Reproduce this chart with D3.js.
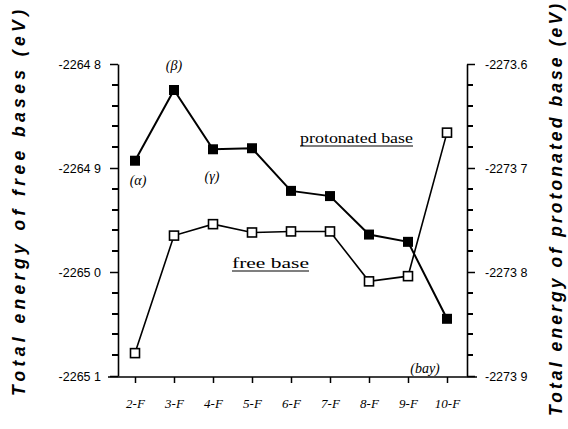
<!DOCTYPE html>
<html>
<head>
<meta charset="utf-8">
<script src="https://cdn.jsdelivr.net/npm/d3@7"></script>
<style>
  body { margin: 0; background: #fff; }
  svg { display: block; }
  .tick text { font-family: "Liberation Sans", Arial, sans-serif; font-size: 12.5px; fill: #000; }
  .xax .tick text { font-family: "Liberation Serif", "Times New Roman", serif; font-style: italic; font-size: 13px; }
</style>
</head>
<body>
<svg id="chart"></svg>
<script>
// data
var categories = ["2-F", "3-F", "4-F", "5-F", "6-F", "7-F", "8-F", "9-F", "10-F"];
var freeBase = [-2265.078, -2264.965, -2264.954, -2264.962, -2264.961, -2264.961, -2265.009, -2265.004, -2264.866];
var protonated = [-2273.693, -2273.625, -2273.682, -2273.681, -2273.722, -2273.727, -2273.764, -2273.771, -2273.845];
var leftTicks = [-2264.8, -2264.9, -2265.0, -2265.1];
var leftLabels = ["-2264 8", "-2264 9", "-2265 0", "-2265 1"];
var leftMinor = [-2264.82, -2264.84, -2264.86, -2264.88, -2264.92, -2264.94, -2264.96, -2264.98,
                 -2265.02, -2265.04, -2265.06, -2265.08];
var rightTicks = [-2273.6, -2273.7, -2273.8, -2273.9];
var rightLabels = ["-2273.6", "-2273 7", "-2273 8", "-2273 9"];
var rightMinor = [-2273.62, -2273.64, -2273.66, -2273.68, -2273.72, -2273.74, -2273.76, -2273.78,
                  -2273.82, -2273.84, -2273.86, -2273.88];
var notes = [
    {text: "(\u03b1)", i: 0, dx: 3, dy: 24},
    {text: "(\u03b2)", i: 1, dx: 0, dy: -20},
    {text: "(\u03b3)", i: 2, dx: -1, dy: 32},
    {text: "(bay)", i: 8, dx: -22, dy: 54}
];

function draw() {
    var width = 568,
        height = 429,
        yTop = 64,
        yBottom = 376,
        xLeft = 118,
        xRight = 467;

    var svg = d3.select("#chart")
        .attr("width", width)
        .attr("height", height);

    var x = d3.scalePoint().domain(categories).range([135, 447]);
    var yL = d3.scaleLinear().domain([-2265.1, -2264.8]).range([yBottom, yTop]);
    var yR = d3.scaleLinear().domain([-2273.9, -2273.6]).range([yBottom, yTop]);

    // minor ticks, drawn as plain rects
    svg.append("g").selectAll("rect").data(leftMinor).enter().append("rect")
        .attr("x", xLeft - 6).attr("width", 6)
        .attr("y", function(d) { return Math.round(yL(d)) - 1; }).attr("height", 2)
        .attr("fill", "#000");
    svg.append("g").selectAll("rect").data(rightMinor).enter().append("rect")
        .attr("x", xRight).attr("width", 6)
        .attr("y", function(d) { return Math.round(yR(d)) - 1; }).attr("height", 2)
        .attr("fill", "#000");

    // left axis
    var gl = svg.append("g").attr("transform", "translate(" + xLeft + ",0)");
    gl.call(d3.axisLeft(yL).tickValues(leftTicks).tickSize(8).tickSizeOuter(0)
        .tickFormat(function(d, i) { return leftLabels[i]; }));
    gl.selectAll(".tick text").attr("x", -17);

    // right axis
    var gr = svg.append("g").attr("transform", "translate(" + xRight + ",0)");
    gr.call(d3.axisRight(yR).tickValues(rightTicks).tickSize(8).tickSizeOuter(0)
        .tickFormat(function(d, i) { return rightLabels[i]; }));
    gr.selectAll(".tick text").attr("x", 18);

    // bottom axis
    var gx = svg.append("g").attr("class", "xax").attr("transform", "translate(0," + (yBottom + 1) + ")");
    gx.call(d3.axisBottom(x).tickSize(6));
    gx.select(".domain").remove();
    gx.append("line").attr("x1", 108).attr("x2", 477).attr("stroke", "#000").attr("stroke-width", 1.5);
    gx.selectAll(".tick text").attr("y", 22);

    svg.selectAll(".domain").attr("stroke-width", 1.6);
    svg.selectAll(".tick line").attr("stroke", "#000").attr("stroke-width", 1.5);

    // lines
    var lineL = d3.line().x(function(d, i) { return x(categories[i]); }).y(function(d) { return yL(d); });
    var lineR = d3.line().x(function(d, i) { return x(categories[i]); }).y(function(d) { return yR(d); });

    svg.append("path").datum(freeBase).attr("d", lineL)
        .attr("fill", "none").attr("stroke", "#000").attr("stroke-width", 1.6);
    svg.append("path").datum(protonated).attr("d", lineR)
        .attr("fill", "none").attr("stroke", "#000").attr("stroke-width", 2);

    var s = 10;
    svg.selectAll(".open").data(freeBase).enter().append("rect")
        .attr("x", function(d, i) { return x(categories[i]) - s / 2 + 0.5; })
        .attr("y", function(d) { return yL(d) - s / 2 + 0.5; })
        .attr("width", s - 1).attr("height", s - 1)
        .attr("fill", "#fff").attr("stroke", "#000").attr("stroke-width", 1.6);
    svg.selectAll(".filled").data(protonated).enter().append("rect")
        .attr("x", function(d, i) { return x(categories[i]) - s / 2; })
        .attr("y", function(d) { return yR(d) - s / 2; })
        .attr("width", s).attr("height", s)
        .attr("fill", "#000");

    // annotations
    svg.selectAll(".note").data(notes).enter().append("text")
        .attr("x", function(d) { return x(categories[d.i]) + d.dx; })
        .attr("y", function(d) { return yR(protonated[d.i]) + d.dy; })
        .attr("text-anchor", "middle")
        .style("font-family", "Liberation Serif, Times New Roman, serif")
        .style("font-style", "italic").style("font-size", "14px")
        .text(function(d) { return d.text; });

    function label(txt, xx, yy, w) {
        svg.append("text").attr("x", xx).attr("y", yy)
            .style("font-family", "Liberation Serif, Times New Roman, serif")
            .style("font-size", "15.5px")
            .attr("textLength", w).attr("lengthAdjust", "spacingAndGlyphs")
            .text(txt);
        svg.append("line").attr("x1", xx).attr("x2", xx + w).attr("y1", yy + 3).attr("y2", yy + 3)
            .attr("stroke", "#000").attr("stroke-width", 1.2);
    }
    label("protonated base", 300, 143, 113);
    label("free base", 232, 268, 77);

    // axis titles
    function title(txt, xx, yy, w) {
        svg.append("text")
            .attr("transform", "translate(" + xx + "," + yy + ") rotate(-90)")
            .attr("text-anchor", "middle")
            .style("font-family", "Liberation Sans, Arial, sans-serif")
            .style("font-weight", "bold").style("font-style", "italic")
            .style("font-size", "17.5px")
            .attr("textLength", w).attr("lengthAdjust", "spacing")
            .text(txt);
    }
    title("Total energy of free bases (eV)", 25, 203, 386);
    title("Total energy of protonated base (eV)", 562, 210, 412);
}

draw();
</script>
</body>
</html>
